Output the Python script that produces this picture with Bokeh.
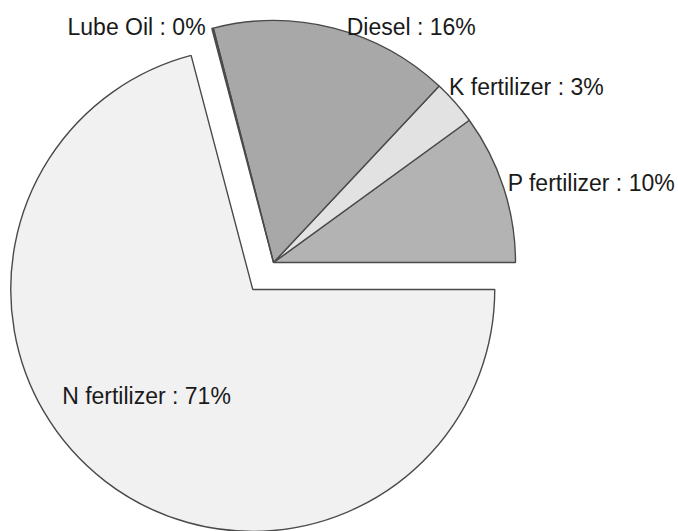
import math
from bokeh.plotting import figure
from bokeh.models import ColumnDataSource
from bokeh.core.properties import value
from bokeh.embed import file_html
from bokeh.resources import INLINE

# data
categories = ["P fertilizer", "K fertilizer", "Diesel", "Lube Oil", "N fertilizer"]
percents = [10.0, 3.0, 16.0, 0.1, 70.9]
colors = ["#b3b3b3", "#e2e2e2", "#a8a8a8", "#6a6a6a", "#f1f1f1"]
exploded = [False, False, False, False, True]

W, H = 678, 531
p = figure(width=W, height=H, x_range=(0, W), y_range=(0, H),
           output_backend="svg", toolbar_location=None, min_border=0)
p.axis.visible = False
p.grid.visible = False
p.outline_line_color = None
p.background_fill_color = "white"

cx, cy = 273, H - 262
R = 242
explode_dist = 34
# label placement (style, not data)
label_dist = [1.0, 1.0, 1.0, 1.0, 0.55]
label_nudge = [(4, 5), (-6, 15), (13, 1), (-7, 1), (-25, -1)]

total = sum(percents)
starts, ends, xs, ys = [], [], [], []
lx, ly, ltxt, lalign, lbase = [], [], [], [], []
a = 0.0
for i, v in enumerate(percents):
    s = a
    e = a + v / total * 2 * math.pi
    a = e
    m = (s + e) / 2
    ox = cx + (explode_dist * math.cos(m) if exploded[i] else 0)
    oy = cy + (explode_dist * math.sin(m) if exploded[i] else 0)
    starts.append(s); ends.append(e); xs.append(ox); ys.append(oy)
    d = label_dist[i] * R
    tx = ox + d * math.cos(m) + label_nudge[i][0]
    ty = oy + d * math.sin(m) + label_nudge[i][1]
    lx.append(tx); ly.append(ty)
    ltxt.append(f"{categories[i]} : {round(v)}%")
    if exploded[i]:
        lalign.append("center"); lbase.append("middle")
    else:
        lalign.append("left" if math.cos(m) >= 0 else "right")
        lbase.append("alphabetic")

src = ColumnDataSource(dict(x=xs, y=ys, s=starts, e=ends, c=colors))
p.wedge(x="x", y="y", radius=R, start_angle="s", end_angle="e",
        fill_color="c", line_color="#4a4a4a", line_width=1.4, source=src)

lsrc = ColumnDataSource(dict(x=lx, y=ly, t=ltxt, al=lalign, bl=lbase))
p.text(x="x", y="y", text="t", text_align="al", text_baseline="bl",
       text_font=value("Liberation Sans"), text_font_size="23px",
       text_color="#1a1a1a", source=lsrc)

open("out.html", "w").write(file_html(p, INLINE))
